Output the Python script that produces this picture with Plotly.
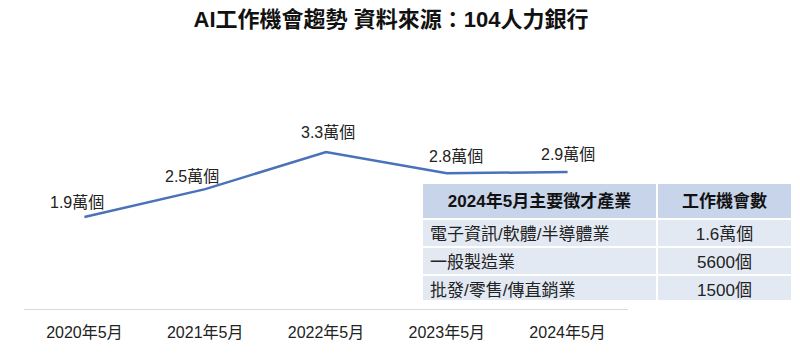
import plotly.graph_objects as go

# ---- data ----
periods = ["2020年5月", "2021年5月", "2022年5月", "2023年5月", "2024年5月"]
jobs_wan = [1.9, 2.5, 3.3, 2.84, 2.87]          # 萬個 (line positions)
point_labels = ["1.9萬個", "2.5萬個", "3.3萬個", "2.8萬個", "2.9萬個"]

table_header = ["2024年5月主要徵才產業", "工作機會數"]
industries = ["電子資訊/軟體/半導體業", "一般製造業", "批發/零售/傳直銷業"]
industry_jobs = ["1.6萬個", "5600個", "1500個"]

title_text = "AI工作機會趨勢 資料來源：104人力銀行"

FONT = "Liberation Sans, Arial, Noto Sans CJK TC, sans-serif"
OFF = 8                     # page body margin
W, H = 800 - OFF, 359 - OFF

def px_x(x):
    return (x - OFF) / W

def px_y(y):
    return (H - (y - OFF)) / H

fig = go.Figure()
fig.add_trace(go.Scatter(
    x=periods, y=jobs_wan, mode="lines",
    line=dict(color="#4a72b8", width=2.5),
    hoverinfo="skip", showlegend=False,
))

# label offsets (pixels) relative to each point
label_xshift = [-7, -13, 2, 9, 0]
label_yshift = [15, 13, 19, 17, 17]
for p, v, t, dx, dy in zip(periods, jobs_wan, point_labels, label_xshift, label_yshift):
    fig.add_annotation(x=p, y=v, text=t, showarrow=False, xanchor="center",
                       yanchor="middle", xshift=dx, yshift=dy,
                       font=dict(family=FONT, size=16, color="#222222"))

fig.add_trace(go.Table(
    domain=dict(x=[px_x(422), px_x(792)], y=[px_y(300), px_y(183)]),
    columnwidth=[235, 135],
    header=dict(values=[f"<b>{h}</b>" for h in table_header],
                fill_color="#c7d4ea", line=dict(color="white", width=2),
                align="center", height=25,
                font=dict(family=FONT, size=17, color="#111111")),
    cells=dict(values=[industries, industry_jobs],
               fill_color="#e3e9f3", line=dict(color="white", width=2),
               align=["left", "center"], height=28,
               font=dict(family=FONT, size=17, color="#222222")),
))

fig.update_layout(
    width=W, height=H,
    margin=dict(l=0, r=0, t=0, b=0),
    paper_bgcolor="white", plot_bgcolor="white",
    title=dict(text=f"<b>{title_text}</b>", x=px_x(391), xanchor="center",
               y=px_y(19), yanchor="middle", yref="container",
               font=dict(family=FONT, size=22, color="#111111")),
    xaxis=dict(domain=[px_x(24), px_x(628)], type="category", range=[-0.5, 4.5],
               showline=True, linecolor="#d9d9d9", linewidth=1,
               showgrid=False, zeroline=False, ticks="",
               ticklabelstandoff=9,
               tickfont=dict(family=FONT, size=16, color="#222222")),
    yaxis=dict(domain=[px_y(309), px_y(60)], range=[-0.08, 5.28],
               visible=False, showgrid=False, zeroline=False),
)

fig.write_html("out.html")
